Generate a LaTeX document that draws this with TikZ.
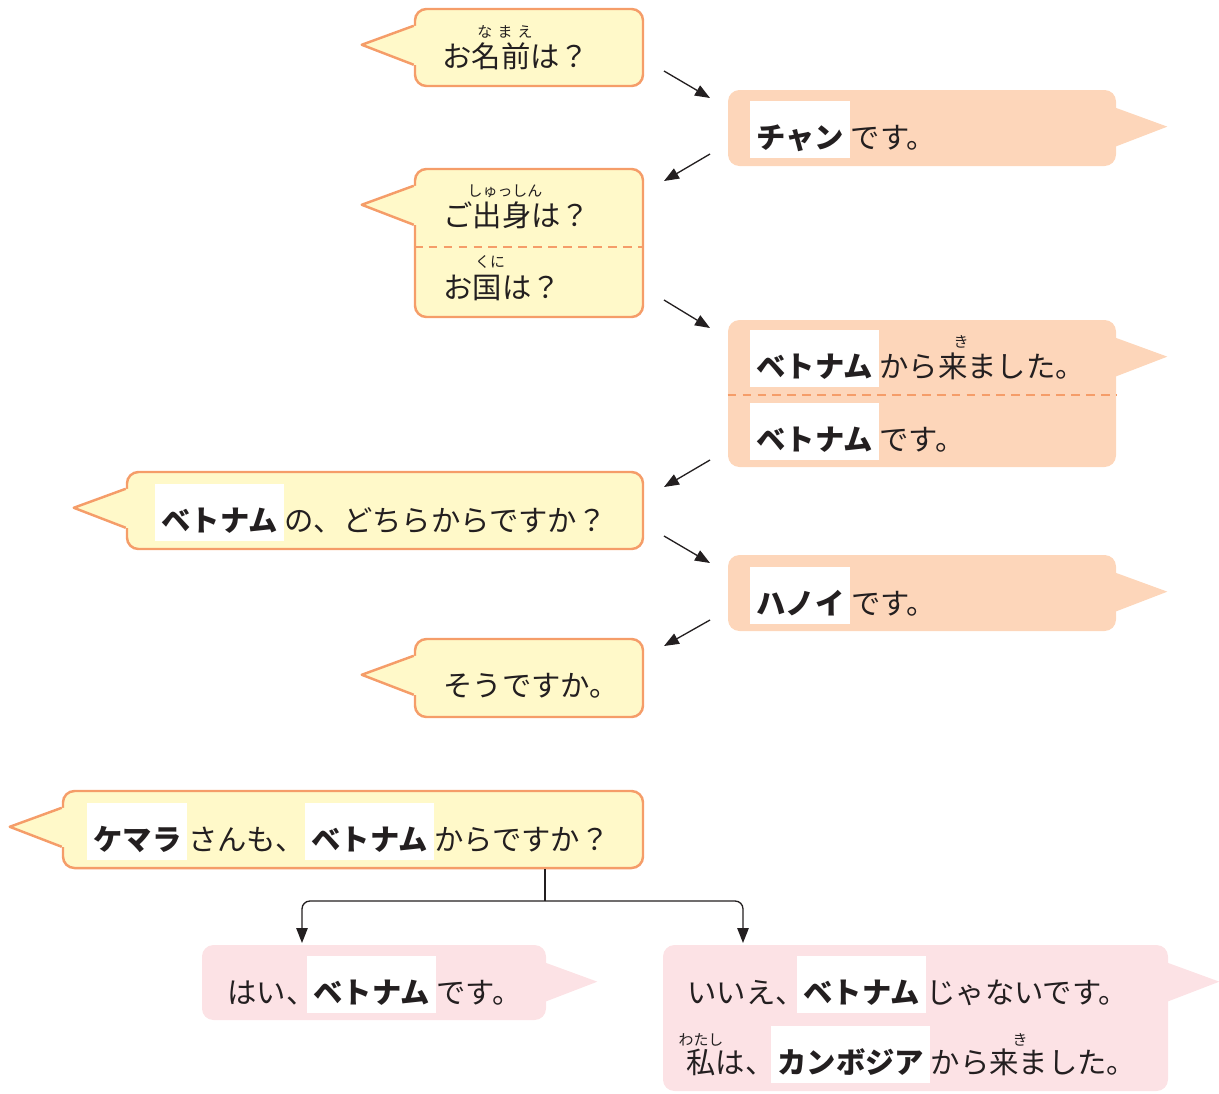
\documentclass[tikz,border=0pt]{standalone}
\usepackage{fontspec}
\setmainfont{Noto Sans CJK JP}
\usetikzlibrary{positioning,fit,arrows.meta}
\definecolor{askfill}{HTML}{FFF9C9}
\definecolor{askline}{HTML}{F59D69}
\definecolor{peach}{HTML}{FDD6BA}
\definecolor{blush}{HTML}{FCE2E5}
\definecolor{ink}{HTML}{231F20}

\begin{document}
\begin{tikzpicture}[x=0.02cm, y=-0.02cm, >={Triangle[length=8.5pt,width=6.5pt]}]
      \tikzstyle{ask}=[fill=askfill, draw=askline, line width=1.4pt, rounded corners=6.5pt, inner sep=0pt]
      \tikzstyle{reply}=[fill=peach, rounded corners=6.5pt, inner sep=0pt]
      \tikzstyle{answer}=[fill=blush, rounded corners=6.5pt, inner sep=0pt]
      \tikzstyle{divider}=[draw=askline, line width=1.2pt, dash pattern=on 5pt off 3.5pt]
      \tikzstyle{say}=[inner sep=0pt, text=ink, font=\fontsize{16.7pt}{20pt}\selectfont]
      \tikzstyle{hilite}=[say, fill=white, font=\fontsize{16.7pt}{20pt}\selectfont\bfseries, inner xsep=3.4pt, text height=27pt, text depth=5.5pt]
      \tikzstyle{ruby}=[inner sep=0pt, text=ink, font=\fontsize{8.5pt}{9pt}\selectfont]
      \tikzstyle{flow}=[draw=ink, line width=0.75pt]

      \useasboundingbox (0,0) rectangle (1219,1093);

      % draw bubbles
      \node [ask, fit={(415,9) (643,86)}] (q1) {};
      \node [reply, fit={(728,90) (1116,166)}] (a1) {};
      \node [ask, fit={(415,169) (643,317)}] (q2) {};
      \node [reply, fit={(728,320) (1116,467)}] (a2) {};
      \node [ask, fit={(127,472) (643,549)}] (q3) {};
      \node [reply, fit={(728,555) (1116,631)}] (a3) {};
      \node [ask, fit={(415,639) (643,717)}] (q4) {};
      \node [ask, fit={(63,791) (643,868)}] (q5) {};
      \node [answer, fit={(202,945) (546,1020)}] (r1) {};
      \node [answer, fit={(663,945) (1168,1091)}] (r2) {};

      \foreach \n in {q1,q2,q3,q4,q5} {
          \fill [askfill] ([shift={(4,18)}]\n.north west) -- ([shift={(0,18)}]\n.north west) -- ([shift={(-52,37)}]\n.north west) -- ([shift={(0,57)}]\n.north west) -- ([shift={(4,57)}]\n.north west) -- cycle;
          \draw [askline, line width=1.4pt, line join=round] ([shift={(0,18)}]\n.north west) -- ([shift={(-52,37)}]\n.north west) -- ([shift={(0,57)}]\n.north west);};

      \foreach \n/\c in {a1/peach,a2/peach,a3/peach,r1/blush,r2/blush}
      \fill [\c] ([shift={(-1,18)}]\n.north east) -- ([shift={(51,37)}]\n.north east) -- ([shift={(-1,57)}]\n.north east) -- cycle;

      \draw [divider] (q2.west |- 0,247) -- (q2.east |- 0,247);
      \draw [divider] (a2.west |- 0,395) -- (a2.east |- 0,395);

      % draw text
      \node [say, anchor=base west] (t1) at (442,67) {お名前は？};
      \node [ruby] (f1) at (505,32) {な\hspace{3pt}ま\hspace{3pt}え};

      \node [hilite, anchor=base west] (chan) at (750,148) {チャン};
      \node [say, base right=0pt of chan] (chanrest) {です。};

      \node [say, anchor=base west] (t2) at (443,226) {ご出身は？};
      \node [ruby] (f2) at (505,191) {しゅっしん};
      \node [say, anchor=base west] (t3) at (443,298) {お国は？};
      \node [ruby] (f3) at (490,262) {くに};

      \node [hilite, anchor=base west] (viet1) at (750,377) {ベトナム};
      \node [say, base right=0pt of viet1] (viet1rest) {から来ました。};
      \node [ruby] (f4) at (961,342) {き};
      \node [hilite, anchor=base west] (viet2) at (750,450) {ベトナム};
      \node [say, base right=0pt of viet2] (viet2rest) {です。};

      \node [hilite, anchor=base west] (viet3) at (155,531) {ベトナム};
      \node [say, base right=0pt of viet3] (viet3rest) {の、どちらからですか？};

      \node [hilite, anchor=base west] (hanoi) at (750,614) {ハノイ};
      \node [say, base right=0pt of hanoi] (hanoirest) {です。};

      \node [say, anchor=base west] (t4) at (443,696) {そうですか。};

      \node [hilite, anchor=base west] (kemara) at (87,850) {ケマラ};
      \node [say, base right=0pt of kemara] (san) {さんも、};
      \node [hilite, anchor=base west] (viet4) at (305,850) {ベトナム};
      \node [say, base right=0pt of viet4] (viet4rest) {からですか？};

      \node [say, anchor=base west] (hai) at (227,1003) {はい、};
      \node [hilite, anchor=base west] (viet5) at (307,1003) {ベトナム};
      \node [say, base right=0pt of viet5] (viet5rest) {です。};

      \node [say, anchor=base west] (iie) at (687,1003) {いいえ、};
      \node [hilite, anchor=base west] (viet6) at (797,1003) {ベトナム};
      \node [say, base right=0pt of viet6] (viet6rest) {じゃないです。};
      \node [say, anchor=base west] (watashi) at (686,1073) {私は、};
      \node [hilite, anchor=base west] (cambodia) at (771,1073) {カンボジア};
      \node [say, base right=0pt of cambodia] (cambodiarest) {から来ました。};
      \node [ruby] (f5) at (701,1040) {わたし};
      \node [ruby] (f6) at (1020,1040) {き};

      % draw lines
      \foreach \i/\p/\q in {1/{664,71}/{710,98}, 2/{710,154}/{664,181}, 3/{664,300}/{710,328}, 4/{710,460}/{664,487}, 5/{664,536}/{710,563}, 6/{710,620}/{664,646}} {
          \coordinate (from\i) at (\p);
          \coordinate (to\i) at (\q);
          \draw [flow, ->] (from\i) -- (to\i);};

      \coordinate (fork) at (545,901);
      \coordinate (yesin) at (302,943);
      \coordinate (noin) at (743,943);
      \draw [flow] (q5.south -| fork) -- (fork);
      \draw [flow, ->, rounded corners=4.5pt] (fork) -| (yesin);
      \draw [flow, ->, rounded corners=4.5pt] (fork) -| (noin);

    \end{tikzpicture}
\end{document}
